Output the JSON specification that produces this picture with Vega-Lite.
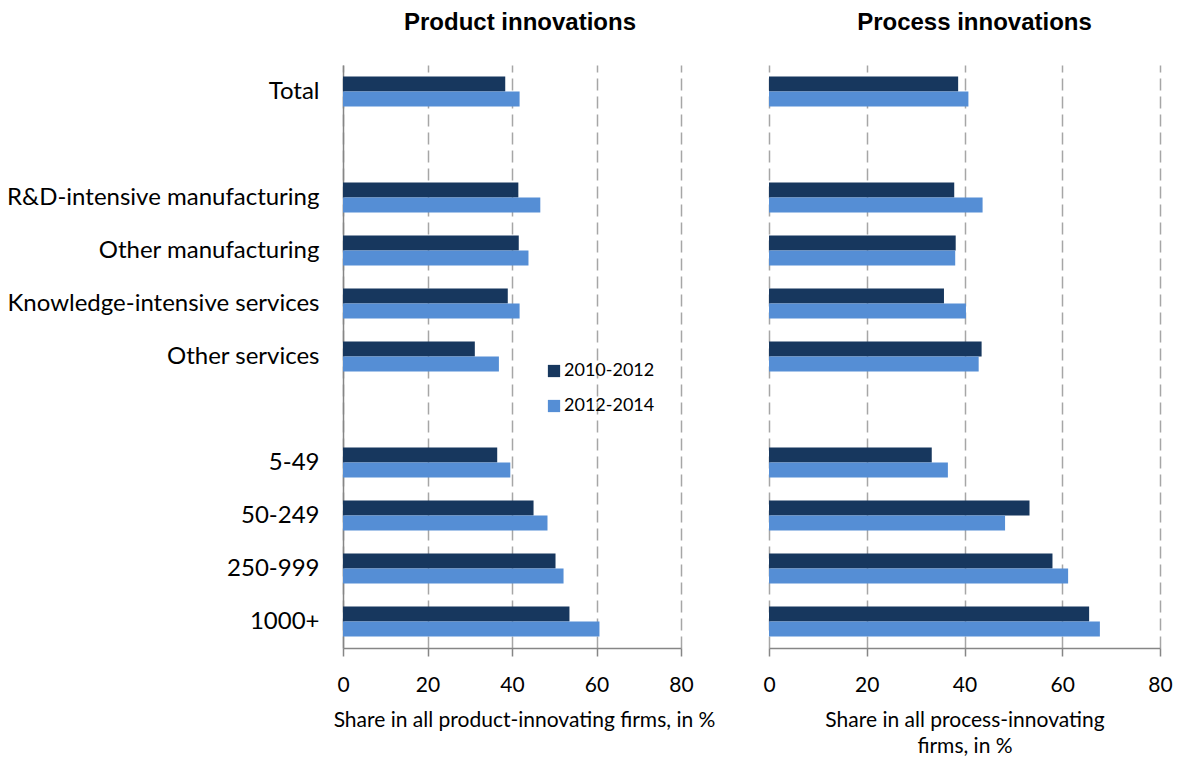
{
  "$schema": "https://vega.github.io/schema/vega-lite/v6.json",
  "padding": {"left": 6, "top": 11, "right": 10, "bottom": 5},
  "spacing": 88,
  "bounds": "flush",
  "config": {
    "view": {"stroke": null},
    "font": "Lato",
    "axis": {"labelFont": "Lato", "titleFont": "Lato", "labelColor": "#000000", "titleColor": "#000000"}
  },
  "datasets": {
    "d": [
      {"panel": "product", "group": "Total", "period": "2010-2012", "value": 38.4},
      {"panel": "product", "group": "Total", "period": "2012-2014", "value": 41.8},
      {"panel": "product", "group": "R&D-intensive manufacturing", "period": "2010-2012", "value": 41.5},
      {"panel": "product", "group": "R&D-intensive manufacturing", "period": "2012-2014", "value": 46.7},
      {"panel": "product", "group": "Other manufacturing", "period": "2010-2012", "value": 41.6},
      {"panel": "product", "group": "Other manufacturing", "period": "2012-2014", "value": 43.9},
      {"panel": "product", "group": "Knowledge-intensive services", "period": "2010-2012", "value": 39.0},
      {"panel": "product", "group": "Knowledge-intensive services", "period": "2012-2014", "value": 41.8},
      {"panel": "product", "group": "Other services", "period": "2010-2012", "value": 31.2},
      {"panel": "product", "group": "Other services", "period": "2012-2014", "value": 36.9},
      {"panel": "product", "group": "5-49", "period": "2010-2012", "value": 36.5},
      {"panel": "product", "group": "5-49", "period": "2012-2014", "value": 39.6},
      {"panel": "product", "group": "50-249", "period": "2010-2012", "value": 45.1},
      {"panel": "product", "group": "50-249", "period": "2012-2014", "value": 48.4},
      {"panel": "product", "group": "250-999", "period": "2010-2012", "value": 50.3},
      {"panel": "product", "group": "250-999", "period": "2012-2014", "value": 52.2},
      {"panel": "product", "group": "1000+", "period": "2010-2012", "value": 53.6},
      {"panel": "product", "group": "1000+", "period": "2012-2014", "value": 60.7},
      {"panel": "process", "group": "Total", "period": "2010-2012", "value": 38.7},
      {"panel": "process", "group": "Total", "period": "2012-2014", "value": 40.8},
      {"panel": "process", "group": "R&D-intensive manufacturing", "period": "2010-2012", "value": 37.9},
      {"panel": "process", "group": "R&D-intensive manufacturing", "period": "2012-2014", "value": 43.7},
      {"panel": "process", "group": "Other manufacturing", "period": "2010-2012", "value": 38.2},
      {"panel": "process", "group": "Other manufacturing", "period": "2012-2014", "value": 38.1},
      {"panel": "process", "group": "Knowledge-intensive services", "period": "2010-2012", "value": 35.8},
      {"panel": "process", "group": "Knowledge-intensive services", "period": "2012-2014", "value": 40.3},
      {"panel": "process", "group": "Other services", "period": "2010-2012", "value": 43.5},
      {"panel": "process", "group": "Other services", "period": "2012-2014", "value": 42.9},
      {"panel": "process", "group": "5-49", "period": "2010-2012", "value": 33.3},
      {"panel": "process", "group": "5-49", "period": "2012-2014", "value": 36.6},
      {"panel": "process", "group": "50-249", "period": "2010-2012", "value": 53.3},
      {"panel": "process", "group": "50-249", "period": "2012-2014", "value": 48.3},
      {"panel": "process", "group": "250-999", "period": "2010-2012", "value": 58.0},
      {"panel": "process", "group": "250-999", "period": "2012-2014", "value": 61.2},
      {"panel": "process", "group": "1000+", "period": "2010-2012", "value": 65.5},
      {"panel": "process", "group": "1000+", "period": "2012-2014", "value": 67.7}
    ]
  },
  "resolve": {"legend": {"color": "independent"}},
  "hconcat": [
    {
      "width": 338,
      "height": 583,
      "data": {"name": "d"},
      "transform": [{"filter": "datum.panel === 'product'"}],
      "title": {"text": "Product innovations", "font": "Liberation Sans", "fontSize": 24, "fontWeight": "bold", "anchor": "middle", "offset": 30, "dx": 8, "color": "#000000"},
      "mark": {"type": "bar"},
      "encoding": {
        "y": {
          "field": "group", "type": "nominal",
          "scale": {"domain": ["Total", " ", "R&D-intensive manufacturing", "Other manufacturing", "Knowledge-intensive services", "Other services", "  ", "5-49", "50-249", "250-999", "1000+"], "paddingInner": 0.43, "paddingOuter": 0.215},
          "axis": {"title": null, "ticks": false, "labelFontSize": 24, "labelPadding": 24, "labelLimit": 400, "domainColor": "#868686", "domainWidth": 1.5, "grid": false}
        },
        "yOffset": {"field": "period", "type": "nominal", "sort": ["2010-2012", "2012-2014"]},
        "x": {
          "field": "value", "type": "quantitative",
          "scale": {"domain": [0, 80], "nice": false},
          "axis": {"values": [0, 20, 40, 60, 80], "labelFlush": false, "title": "Share in all product-innovating firms, in %", "titleX": 181, "titleFontSize": 21, "titleFontWeight": "normal", "titlePadding": 14, "labelFontSize": 21, "labelPadding": 18, "tickSize": 8, "tickColor": "#868686", "tickWidth": 1.5, "domainColor": "#868686", "domainWidth": 1.5, "grid": true, "gridDash": [12, 6], "gridColor": "#A6A6A6", "gridWidth": 1.5}
        },
        "color": {
          "field": "period", "type": "nominal",
          "scale": {"domain": ["2010-2012", "2012-2014"], "range": ["#17375E", "#558ED5"]},
          "legend": {"orient": "none", "legendX": 202, "legendY": 297, "title": null, "symbolType": "square", "symbolSize": 150, "symbolStrokeWidth": 0, "labelFontSize": 18, "labelFont": "Lato", "rowPadding": 17, "padding": 0, "labelOffset": 1}
        }
      }
    },
    {
      "width": 391,
      "height": 583,
      "data": {"name": "d"},
      "transform": [{"filter": "datum.panel === 'process'"}],
      "title": {"text": "Process innovations", "font": "Liberation Sans", "fontSize": 24, "fontWeight": "bold", "anchor": "middle", "offset": 30, "dx": 10, "color": "#000000"},
      "mark": {"type": "bar"},
      "encoding": {
        "y": {
          "field": "group", "type": "nominal",
          "scale": {"domain": ["Total", " ", "R&D-intensive manufacturing", "Other manufacturing", "Knowledge-intensive services", "Other services", "  ", "5-49", "50-249", "250-999", "1000+"], "paddingInner": 0.43, "paddingOuter": 0.215},
          "axis": null
        },
        "yOffset": {"field": "period", "type": "nominal", "sort": ["2010-2012", "2012-2014"]},
        "x": {
          "field": "value", "type": "quantitative",
          "scale": {"domain": [0, 80], "nice": false},
          "axis": {"values": [0, 20, 40, 60, 80], "labelFlush": false, "title": ["Share in all process-innovating", "firms, in %"], "titleFontSize": 21, "titleFontWeight": "normal", "titlePadding": 14, "titleLineHeight": 26, "labelFontSize": 21, "labelPadding": 18, "tickSize": 8, "tickColor": "#868686", "tickWidth": 1.5, "domainColor": "#868686", "domainWidth": 1.5, "grid": true, "gridDash": [12, 6], "gridColor": "#A6A6A6", "gridWidth": 1.5}
        },
        "color": {
          "field": "period", "type": "nominal",
          "scale": {"domain": ["2010-2012", "2012-2014"], "range": ["#17375E", "#558ED5"]},
          "legend": null
        }
      }
    }
  ]
}
